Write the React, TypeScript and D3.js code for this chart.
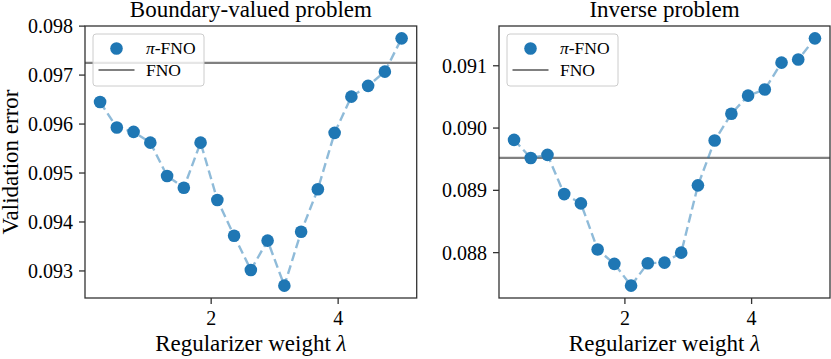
import React from "react";
import * as d3 from "d3";

const lambdas = d3.range(19).map((i) => 0.25 + (i * 4.75) / 18);
const boundaryErrors = [
  0.09645, 0.09593, 0.09584, 0.09562, 0.09494, 0.0947, 0.09562, 0.09445, 0.09372, 0.09302,
  0.09362, 0.0927, 0.0938, 0.09467, 0.09582, 0.09656, 0.09678, 0.09707, 0.09775,
];
const inverseErrors = [
  0.08981, 0.08952, 0.08957, 0.08894, 0.08879, 0.08805, 0.08782, 0.08747, 0.08783, 0.08784,
  0.088, 0.08908, 0.0898, 0.09023, 0.09052, 0.09062, 0.09105, 0.0911, 0.09144,
];
const boundaryFNO = 0.09725;
const inverseFNO = 0.08952;
const xTicks = [2, 4];
const boundaryYTicks = [0.093, 0.094, 0.095, 0.096, 0.097, 0.098];
const inverseYTicks = [0.088, 0.089, 0.09, 0.091];
const titles = ["Boundary-valued problem", "Inverse problem"];

const FONT = "'Liberation Serif', 'DejaVu Serif', serif";
const BLUE = "#1f77b4";
const AX = "#333333";
const LABEL_SIZE = 23;

type PanelProps = {
  left: number;
  right: number;
  top: number;
  bottom: number;
  values: number[];
  fno: number;
  yTicks: number[];
  title: string;
  yLabel?: string;
};

function pad(vals: number[]): [number, number] {
  const [a, b] = d3.extent(vals) as [number, number];
  const m = (b - a) * 0.05;
  return [a - m, b + m];
}

function Panel({ left, right, top, bottom, values, fno, yTicks, title, yLabel }: PanelProps) {
  const x = d3.scaleLinear().domain(pad(lambdas)).range([left, right]);
  const y = d3.scaleLinear().domain(pad(values)).range([bottom, top]);
  const pts = lambdas.map((l, i) => [l, values[i]] as [number, number]);
  const line = d3
    .line<[number, number]>()
    .x((d) => x(d[0]))
    .y((d) => y(d[1]));
  const cx = (left + right) / 2;
  const lx = left + 8;
  const ly = top + 8;
  return (
    <g>
      <text x={cx} y={17} textAnchor="middle" fontSize={LABEL_SIZE} fontFamily={FONT} fill="#000">
        {title}
      </text>
      <line x1={left} x2={right} y1={y(fno)} y2={y(fno)} stroke="#808080" strokeWidth={2.2} />
      <path d={line(pts) || ""} fill="none" stroke={BLUE} strokeOpacity={0.5} strokeWidth={2.4} strokeDasharray="9,4.5" />
      {pts.map((p, i) => (
        <circle key={i} cx={x(p[0])} cy={y(p[1])} r={6.3} fill={BLUE} />
      ))}
      {/* legend */}
      <rect x={lx} y={ly} width={111} height={52} rx={3} fill="#fff" fillOpacity={0.8} stroke="#cccccc" strokeWidth={1} />
      <circle cx={lx + 23.5} cy={ly + 14.5} r={6.3} fill={BLUE} />
      <text x={lx + 53} y={ly + 20} fontSize={17.5} fontFamily={FONT} fill="#000">
        <tspan fontStyle="italic">π</tspan>-FNO
      </text>
      <line x1={lx + 5.5} x2={lx + 41.5} y1={ly + 36} y2={ly + 36} stroke="#808080" strokeWidth={2.2} />
      <text x={lx + 53} y={ly + 42} fontSize={17.5} fontFamily={FONT} fill="#000">
        FNO
      </text>
      {/* frame */}
      <rect x={left} y={top} width={right - left} height={bottom - top} fill="none" stroke={AX} strokeWidth={1.3} />
      {yTicks.map((t) => (
        <g key={t}>
          <line x1={left - 6} x2={left} y1={y(t)} y2={y(t)} stroke={AX} strokeWidth={1.3} />
          <text x={left - 12} y={y(t)} dy="0.35em" textAnchor="end" fontSize={20} fontFamily={FONT} fill="#000">
            {d3.format(".3f")(t)}
          </text>
        </g>
      ))}
      {xTicks.map((t) => (
        <g key={t}>
          <line x1={x(t)} x2={x(t)} y1={bottom} y2={bottom + 6} stroke={AX} strokeWidth={1.3} />
          <text x={x(t)} y={bottom + 27} textAnchor="middle" fontSize={20} fontFamily={FONT} fill="#000">
            {t}
          </text>
        </g>
      ))}
      <text x={cx} y={bottom + 53} textAnchor="middle" fontSize={LABEL_SIZE} fontFamily={FONT} fill="#000">
        Regularizer weight <tspan fontStyle="italic">λ</tspan>
      </text>
      {yLabel && (
        <text
          transform={`translate(18,${(top + bottom) / 2}) rotate(-90)`}
          textAnchor="middle"
          fontSize={LABEL_SIZE}
          fontFamily={FONT}
          fill="#000"
        >
          {yLabel}
        </text>
      )}
    </g>
  );
}

export default function App() {
  return (
    <svg width={831} height={359} style={{ position: "absolute", left: 0, top: 0, background: "#fff" }}>
      <Panel left={85} right={416.7} top={26} bottom={298} values={boundaryErrors} fno={boundaryFNO} yTicks={boundaryYTicks} title={titles[0]} yLabel="Validation error" />
      <Panel left={499} right={830} top={26} bottom={298} values={inverseErrors} fno={inverseFNO} yTicks={inverseYTicks} title={titles[1]} />
    </svg>
  );
}
